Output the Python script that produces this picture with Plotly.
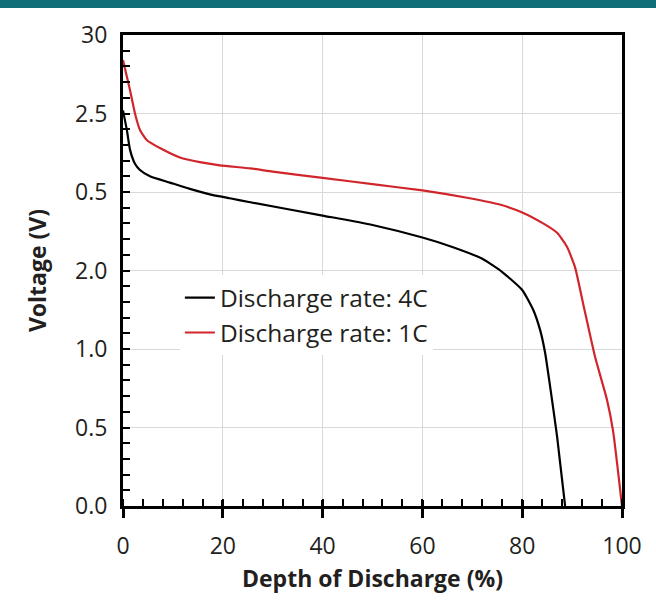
import plotly.graph_objects as go

# Data
dod_1c = [0, 1.4, 2.4, 3.4, 4.8, 7.4, 11.4, 15.4, 19.4, 25.5, 30, 40, 50, 60, 69.5, 75.5, 80, 84.2, 87.0, 89.0, 90.6, 92.2, 94.6, 97, 98.2, 100]
v_1c = [2.84, 2.65, 2.50, 2.395, 2.33, 2.28, 2.22, 2.19, 2.17, 2.15, 2.13, 2.09, 2.05, 2.01, 1.96, 1.92, 1.87, 1.80, 1.74, 1.65, 1.52, 1.29, 0.95, 0.675, 0.48, 0.0]

dod_4c = [0, 0.8, 1.4, 2.4, 3.4, 5.4, 9.4, 13.4, 17.4, 21.4, 25.5, 40, 50, 60, 66, 72, 76, 80, 82.2, 83.6, 84.6, 85.6, 87, 88.6]
v_4c = [2.52, 2.39, 2.27, 2.18, 2.14, 2.10, 2.06, 2.02, 1.985, 1.96, 1.935, 1.85, 1.79, 1.71, 1.65, 1.575, 1.49, 1.376, 1.25, 1.12, 0.975, 0.76, 0.44, 0.0]

y_tickvals = [0, 0.5, 1.0, 1.5, 2.0, 2.5, 3.0]
y_ticktext = ["0.0", "0.5", "1.0", "2.0", "0.5", "2.5", "30"]
x_tickvals = [0, 20, 40, 60, 80, 100]

FONT = "Open Sans"
TXT = "#231f20"

fig = go.Figure()
fig.add_trace(go.Scatter(x=dod_4c, y=v_4c, mode="lines", name="Discharge rate: 4C",
                         line=dict(color="#000000", width=2.2, shape="spline", smoothing=0.5),
                         legendgroup="a"))
fig.add_trace(go.Scatter(x=dod_1c, y=v_1c, mode="lines", name="Discharge rate: 1C",
                         line=dict(color="#d0262b", width=2.2, shape="spline", smoothing=0.5),
                         legendgroup="b"))
# invisible trace on overlay axis to show inward major x ticks
fig.add_trace(go.Scatter(x=[0, 100], y=[0, 0], xaxis="x2", mode="lines",
                         line=dict(width=0), showlegend=False, hoverinfo="skip"))

fig.update_layout(
    width=656, height=610,
    margin=dict(l=123, r=34, t=35, b=104),
    paper_bgcolor="white", plot_bgcolor="white",
    font=dict(family=FONT, size=24, color=TXT),
    showlegend=True,
    legend=dict(x=0.114, y=0.49, xanchor="left", yanchor="top",
                bgcolor="white", borderwidth=0, tracegroupgap=0,
                font=dict(size=24.5, color=TXT), itemwidth=30),
    xaxis=dict(range=[0, 100], tickvals=x_tickvals, ticks="outside", ticklen=9,
               tickwidth=2.5, tickcolor="black",
               showline=True, linewidth=3, linecolor="black", mirror=True,
               showgrid=True, gridcolor="#d9d9d9", gridwidth=1, zeroline=False,
               minor=dict(dtick=4, ticks="inside", ticklen=7, tickwidth=2, tickcolor="black", showgrid=False),
               tickfont=dict(size=23, color=TXT), ticklabelstandoff=8,
               title=dict(text="<b>Depth of Discharge (%)</b>", font=dict(size=23, color=TXT), standoff=12)),
    xaxis2=dict(range=[0, 100], overlaying="x", anchor="y", side="bottom",
                tickvals=x_tickvals, ticks="inside", ticklen=6, tickwidth=2.5, tickcolor="black",
                showticklabels=False, showgrid=False, showline=False, zeroline=False),
    yaxis=dict(range=[0, 3.0], tickvals=y_tickvals, ticktext=y_ticktext,
               ticks="inside", ticklen=7, tickwidth=2, tickcolor="black",
               showline=True, linewidth=3, linecolor="black", mirror=True,
               showgrid=True, gridcolor="#d9d9d9", gridwidth=1, zeroline=False,
               minor=dict(dtick=0.1, ticks="inside", ticklen=7, tickwidth=2, tickcolor="black", showgrid=False),
               tickfont=dict(size=23, color=TXT), ticklabelstandoff=8,
               title=dict(text="<b>Voltage (V)</b>", font=dict(size=23, color=TXT), standoff=23)),
    shapes=[dict(type="rect", xref="paper", yref="paper",
                 x0=-0.3, x1=1.2, y0=1 + 27 / 471, y1=1 + 40 / 471,
                 fillcolor="#0f6e78", line=dict(width=0), layer="above")],
)

fig.write_html("out.html", config={"displayModeBar": False},
               post_script="document.body.style.margin='0px';")
